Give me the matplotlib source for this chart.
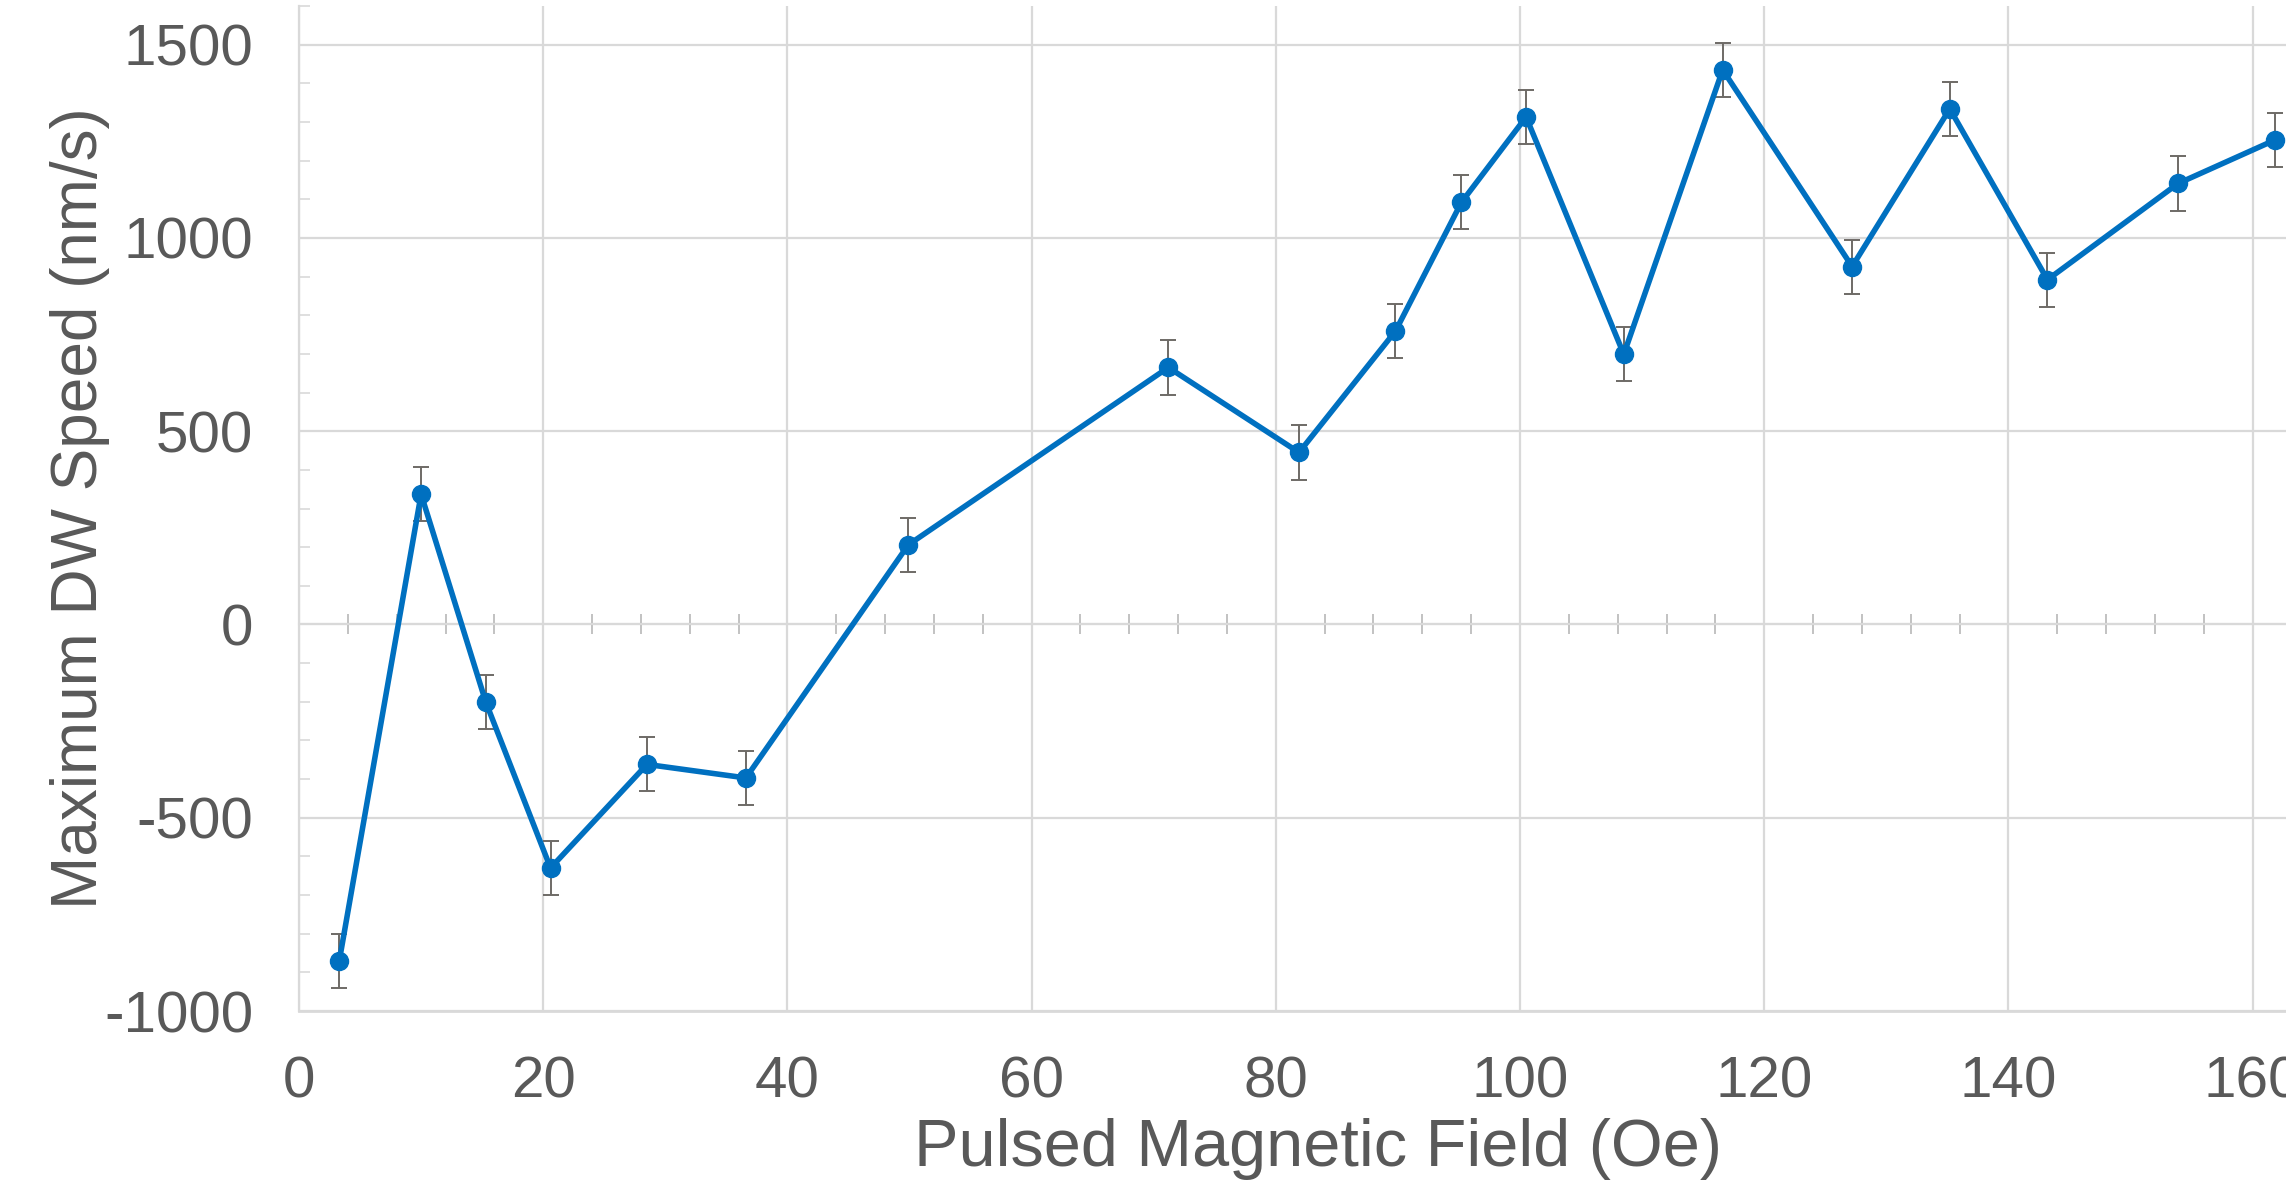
import numpy as np
import matplotlib
matplotlib.use("Agg")
import matplotlib.pyplot as plt
from matplotlib.ticker import MultipleLocator, FixedLocator

# ---- data ----
field = [3.3, 10.0, 15.3, 20.6, 28.5, 36.6, 49.9, 71.2, 81.9, 89.8,
         95.2, 100.5, 108.5, 116.6, 127.2, 135.2, 143.2, 153.9, 161.8]
speed = [-870, 337, -201, -630, -362, -397, 206, 665, 445, 759,
         1092, 1313, 699, 1435, 926, 1334, 892, 1141, 1253]
speed_err = [70, 70, 70, 70, 70, 70, 70, 70, 70, 70,
             70, 70, 70, 70, 70, 70, 70, 70, 70]

x_ticks = [0, 20, 40, 60, 80, 100, 120, 140, 160]
y_ticks = [-1000, -500, 0, 500, 1000, 1500]
zero_axis_ticks = list(range(4, 157, 4))

x_label = "Pulsed Magnetic Field (Oe)"
y_label = "Maximum DW Speed (nm/s)"

# ---- style ----
plt.rcParams['font.family'] = ['Liberation Sans', 'DejaVu Sans']
plt.rcParams['axes.unicode_minus'] = False
TEXT = '#595959'
GRID = '#d9d9d9'
BLUE = '#0070C0'

fig = plt.figure(figsize=(22.86, 11.84), dpi=100)
xmin, xmax = 0, 170
ymin, ymax = -1000, 1600
ax = fig.add_axes([0.1308, 0.1461, 0.908, 0.8488])
ax.set_xlim(xmin, xmax)
ax.set_ylim(ymin, ymax)

ax.set_xticks(x_ticks)
ax.set_yticks(y_ticks)
ax.yaxis.set_minor_locator(MultipleLocator(100))
ax.grid(True, which='major', color=GRID, linewidth=1.6, zorder=0)
ax.set_axisbelow(True)

for s in ['top', 'right']:
    ax.spines[s].set_visible(False)
ax.spines['left'].set_color(GRID)
ax.spines['left'].set_linewidth(1.6)
ax.spines['bottom'].set_color(GRID)
ax.spines['bottom'].set_linewidth(2.0)

ax.tick_params(axis='x', which='major', length=0, pad=32, labelsize=42, labelcolor=TEXT)
ax.tick_params(axis='y', which='major', direction='in', length=8, width=1.2,
               color=GRID, pad=33, labelsize=42, labelcolor=TEXT)
ax.tick_params(axis='y', which='minor', direction='in', length=8, width=1.2, color=GRID)

# horizontal axis line crossing at zero, with its tick marks
zero_frac = (0 - ymin) / (ymax - ymin)
sec = ax.secondary_xaxis(zero_frac)
sec.xaxis.set_major_locator(FixedLocator(zero_axis_ticks))
sec.tick_params(axis='x', direction='inout', length=14, width=1.2, color='#b8b8b8',
                labelbottom=False, labeltop=False)
for s in sec.spines.values():
    s.set_color('#c0c0c0')
    s.set_linewidth(1.5)

# error bars, then line + markers
ax.errorbar(field, speed, yerr=speed_err, fmt='none', ecolor='#6e6a66',
            elinewidth=1.4, capsize=6, capthick=1.4, zorder=3)
ax.plot(field, speed, '-o', color=BLUE, linewidth=4.0, markersize=13, zorder=4)

ax.set_xlabel(x_label, fontsize=48, color=TEXT)
ax.set_ylabel(y_label, fontsize=46, color=TEXT)
ax.xaxis.set_label_coords(0.491, -0.106)
ax.yaxis.set_label_coords(-0.091, 0.5)

fig.savefig("out.png", dpi=100, facecolor='white')
